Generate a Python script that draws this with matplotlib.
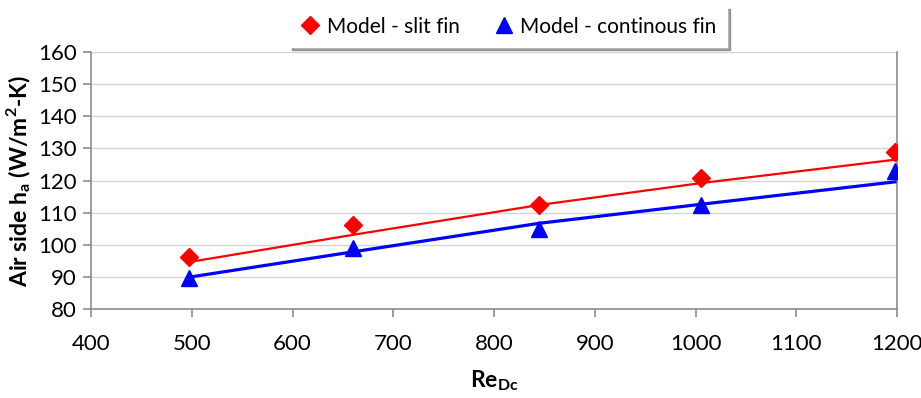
"""
Air side heat transfer coefficient vs Reynolds number, slit vs continuous fin
"""

import matplotlib
matplotlib.use("Agg")
from matplotlib import pyplot as plt

plt.rcParams["font.family"] = ["Lato", "DejaVu Sans"]
plt.rcParams["mathtext.fontset"] = "custom"
plt.rcParams["mathtext.rm"] = "Lato"
plt.rcParams["mathtext.bf"] = "Lato:bold"

re_dc = [497, 660, 845, 1005, 1198]

# markers
h_slit = [96.1, 106.1, 112.3, 120.9, 129.0]
h_cont = [89.6, 98.9, 104.8, 112.4, 123.0]

# trend lines
h_slit_fit = [94.6, 103.1, 112.4, 119.2, 126.5]
h_cont_fit = [89.9, 97.8, 106.7, 112.6, 119.6]

xticks = list(range(400, 1201, 100))
yticks = list(range(80, 161, 10))

fig = plt.figure(figsize=(9.21, 3.98), dpi=100)
ax = fig.add_axes([0.0988, 0.2236, 0.8752, 0.6454])

ax.plot(re_dc, h_slit_fit, color="#ff0000", lw=1.6, zorder=3)
ax.plot(re_dc, h_cont_fit, color="#0000ff", lw=2.3, zorder=3)
ax.plot(re_dc, h_slit, ls="none", marker="D", ms=9, color="#ff0000",
        label="Model - slit fin", zorder=4)
ax.plot(re_dc, h_cont, ls="none", marker="^", ms=11, color="#0000ff",
        label="Model - continous fin", zorder=4)

ax.set_xlim(400, 1200)
ax.set_ylim(80, 160)
ax.set_xticks(xticks)
ax.set_yticks(yticks)
ax.tick_params(labelsize=16, color="#8c8c8c", length=6, width=1.2, pad=4)
ax.tick_params(axis="x", pad=12)
ax.yaxis.grid(True, color="#d4d4d4", lw=1.0)
ax.set_axisbelow(True)
for side in ["left", "bottom", "right"]:
    ax.spines[side].set_color("#8c8c8c")
    ax.spines[side].set_linewidth(1.2)
ax.spines["top"].set_visible(False)

ax.set_xlabel(r"Re$_{\mathbf{Dc}}$", fontsize=16.5, fontweight="bold", labelpad=10)
ax.set_ylabel(r"Air side h$_{\mathbf{a}}$ (W/m$^{\mathbf{2}}$-K)", fontsize=16.5,
              fontweight="bold", labelpad=4)

leg = fig.legend(loc="upper center", bbox_to_anchor=(0.552, 0.995), ncol=2,
                 fontsize=15, frameon=True, fancybox=False, shadow=True,
                 handletextpad=0.3, columnspacing=1.6, borderpad=0.5,
                 handlelength=1.0, borderaxespad=0.2)
leg.get_frame().set_edgecolor("#ffffff")

fig.savefig("out.png", dpi=100)
